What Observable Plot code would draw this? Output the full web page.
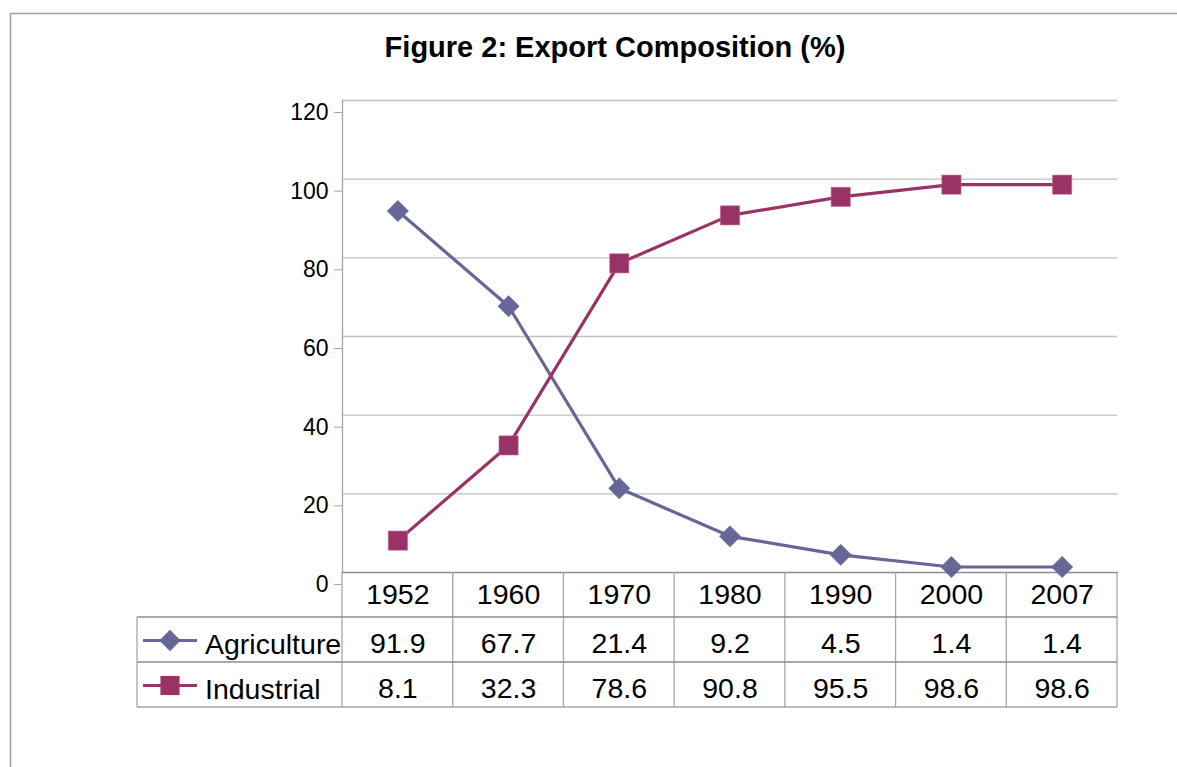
<!DOCTYPE html>
<html>
<head>
<meta charset="utf-8">
<script src="https://cdn.jsdelivr.net/npm/d3@7"></script>
<script src="https://cdn.jsdelivr.net/npm/@observablehq/plot@0.6"></script>
<style>
  html, body { margin: 0; padding: 0; background: #fff; }
  #chart { position: relative; width: 1177px; height: 767px; overflow: hidden; }
</style>
</head>
<body>
<div id="chart"></div>
<script>
const titleText = "Figure 2: Export Composition (%)";
const years = ["1952", "1960", "1970", "1980", "1990", "2000", "2007"];
const agriculture = [91.9, 67.7, 21.4, 9.2, 4.5, 1.4, 1.4];
const industrial = [8.1, 32.3, 78.6, 90.8, 95.5, 98.6, 98.6];
const seriesNames = ["Agriculture", "Industrial"];
const seriesColors = ["#666699", "#993366"];
const seriesSymbols = ["diamond2", "square"];
const yTicks = [0, 20, 40, 60, 80, 100, 120];

const FONT = "'Liberation Sans', Arial, Helvetica, sans-serif";
const R_DIAMOND = 9.6;
const R_SQUARE = 10.8;

const series = [agriculture, industrial];
const rows = [];
series.forEach((vals, s) => vals.forEach((v, i) => rows.push({year: years[i], value: v, series: seriesNames[s]})));

const plot = Plot.plot({
  width: 1177,
  height: 767,
  marginLeft: 342,
  marginRight: 60,
  marginTop: 100,
  marginBottom: 195,
  style: {fontFamily: FONT, fontSize: "23px", color: "#000", background: "#fff", overflow: "visible"},
  x: {type: "band", domain: years, padding: 0, round: false, axis: null},
  y: {domain: [0, 120], axis: null},
  color: {domain: seriesNames, range: seriesColors},
  symbol: {domain: seriesNames, range: seriesSymbols},
  marks: [
    Plot.ruleY(yTicks.filter(d => d > 0), {stroke: "#bfbfbf", strokeWidth: 1.3, strokeOpacity: 1}),
    Plot.axisY({ticks: yTicks, tickSize: 8, tickPadding: 6, dy: 12, fontSize: 23, stroke: "#a6a6a6", strokeOpacity: 1, label: null, tickFormat: d => String(d)}),
    Plot.frame({anchor: "left", stroke: "#a6a6a6", strokeWidth: 1.3}),
    Plot.frame({anchor: "bottom", stroke: "#8c8c8c", strokeWidth: 1.3}),
    Plot.line(rows, {x: "year", y: "value", z: "series", stroke: "series", strokeWidth: 3.2}),
    Plot.dot(rows.filter(d => d.series === seriesNames[0]), {x: "year", y: "value", symbol: "series", fill: "series", stroke: "series", r: R_DIAMOND, strokeWidth: 0.5}),
    Plot.dot(rows.filter(d => d.series === seriesNames[1]), {x: "year", y: "value", symbol: "series", fill: "series", stroke: "#c06090", r: R_SQUARE, strokeWidth: 0.6}),
    Plot.text(years, {x: d => d, text: d => d, frameAnchor: "bottom", dy: 31, fontSize: 28.5, fill: "#000"}),
    Plot.text(years, {x: d => d, text: (d, i) => String(agriculture[i]), frameAnchor: "bottom", dy: 80, fontSize: 28.5, fill: "#000"}),
    Plot.text(years, {x: d => d, text: (d, i) => String(industrial[i]), frameAnchor: "bottom", dy: 125, fontSize: 28.5, fill: "#000"})
  ]
});

document.getElementById("chart").appendChild(plot);

// decorations: outer chart border, title, data-table grid and legend keys
const svg = d3.select(plot);
const xs = plot.scale("x");
const ys = plot.scale("y");
const bw = xs.bandwidth;
const right = xs.apply(years[years.length - 1]) + bw;
const top0 = ys.apply(0);
const rowH = 45;
const legendLeft = 137;

svg.insert("rect", ":first-child")
  .attr("x", 10.5).attr("y", 13.5).attr("width", 1300).attr("height", 900)
  .attr("fill", "none").attr("stroke", "#a0a0a0").attr("stroke-width", 1.5);

svg.append("text")
  .attr("x", 615).attr("y", 47).attr("dy", "0.35em")
  .attr("text-anchor", "middle")
  .attr("font-family", FONT).attr("font-weight", "bold").attr("font-size", 29)
  .attr("fill", "#000")
  .text(titleText);

const g = svg.append("g").attr("stroke", "#a6a6a6").attr("stroke-width", 1.3).attr("fill", "none");
years.forEach(y => {
  const x = xs.apply(y);
  g.append("line").attr("x1", x).attr("x2", x).attr("y1", top0).attr("y2", top0 + 3 * rowH);
});
g.append("line").attr("x1", right).attr("x2", right).attr("y1", top0).attr("y2", top0 + 3 * rowH);
for (let r = 1; r <= 3; r++) {
  g.append("line").attr("x1", legendLeft).attr("x2", right).attr("y1", top0 + r * rowH).attr("y2", top0 + r * rowH)
    .attr("stroke", r === 3 ? "#a6a6a6" : "#8c8c8c");
}
g.append("line").attr("x1", legendLeft).attr("x2", legendLeft).attr("y1", top0 + rowH).attr("y2", top0 + 3 * rowH);

seriesNames.forEach((name, s) => {
  const cy = top0 + rowH * (s + 1) + rowH / 2 + 1;
  svg.append("line").attr("x1", 143).attr("x2", 197).attr("y1", cy).attr("y2", cy)
    .attr("stroke", seriesColors[s]).attr("stroke-width", 3.2);
  const sym = s === 0 ? d3.symbolDiamond2 : d3.symbolSquare;
  const rr = s === 0 ? R_DIAMOND : R_SQUARE;
  svg.append("path").attr("d", d3.symbol(sym, Math.PI * rr * rr)()).attr("transform", `translate(170,${cy})`)
    .attr("fill", seriesColors[s]);
  svg.append("text").attr("x", 205).attr("y", cy + 4).attr("dy", "0.35em")
    .attr("text-anchor", "start")
    .attr("font-family", FONT).attr("font-size", 28.5).attr("fill", "#000")
    .text(name);
});
</script>
</body>
</html>
